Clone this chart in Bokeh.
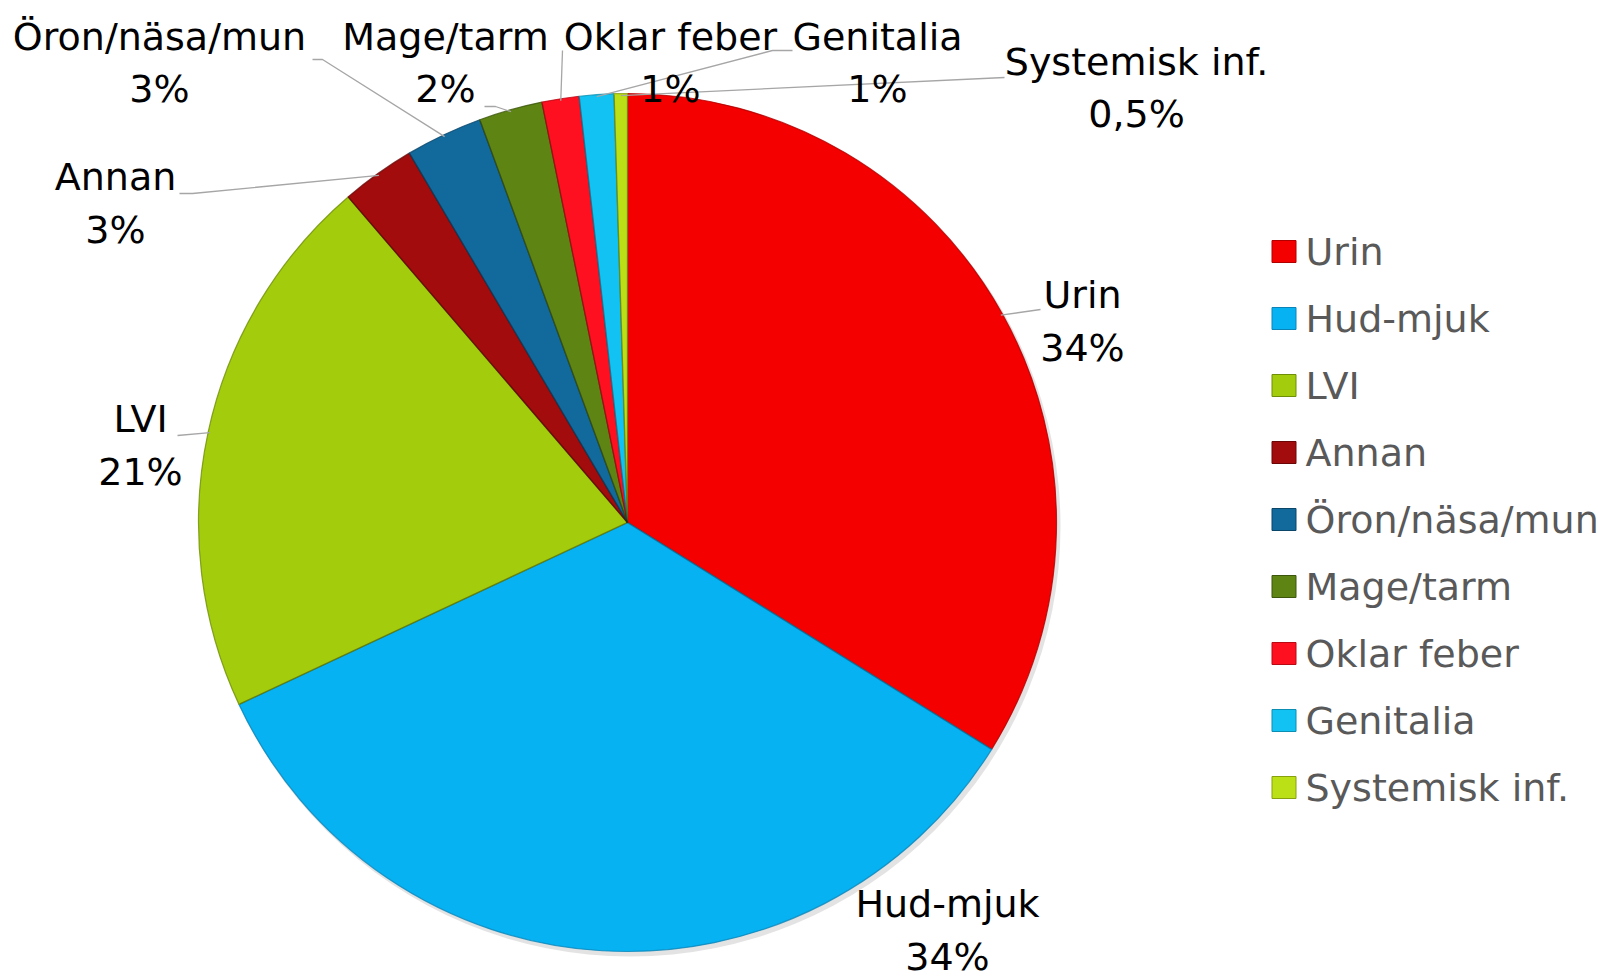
import math
from bokeh.plotting import figure
from bokeh.models import Range1d
from bokeh.core.properties import value
from bokeh.embed import file_html
from bokeh.resources import INLINE

# ---- data ----
categories = ["Urin", "Hud-mjuk", "LVI", "Annan", "Öron/näsa/mun",
              "Mage/tarm", "Oklar feber", "Genitalia", "Systemisk inf."]
shares = [33.9, 34.2, 20.7, 2.8, 2.9, 2.4, 1.4, 1.3, 0.5]
pct_labels = ["34%", "34%", "21%", "3%", "3%", "2%", "1%", "1%", "0,5%"]
colors = ["#F40000", "#06B2F2", "#A2CC0C", "#A30C0C", "#12699C",
          "#5E8414", "#FF1020", "#12C2F2", "#BCE016"]
edge_colors = ["#B00000", "#0A84B8", "#6F8E08", "#6A0606", "#0B4669",
               "#3C560C", "#B80A14", "#0B8EB2", "#86A00E"]

# ---- layout (page pixel coordinates) ----
W, H = 1605, 972
def Y(py):
    return H - py

CX, CY, R = 627, 522, 429
FONT = "DejaVu Sans"
FS = "38px"

# label centres (x, name-line y, pct-line y)
label_pos = [(1082, 294, 347), (947, 903, 956), (140, 418, 471),
             (115, 176, 229), (159, 36, 88), (445, 36, 88),
             (670, 36, 88), (877, 36, 88), (1136, 61, 113)]
# leader line start points (px); None = no leader
leader_start = [[(1040, 309)], None, [(177, 435)], [(179, 193), (192, 193)],
                [(312, 59), (322, 59)], [(484, 106), (495, 106)],
                [(562, 50)], [(792, 50), (772, 50)], [(1004, 77)]]

p = figure(width=W, height=H, output_backend="svg", toolbar_location=None,
           x_range=Range1d(0, W), y_range=Range1d(0, H),
           min_border=0, outline_line_color=None)
p.axis.visible = False
p.grid.visible = False
p.background_fill_color = "white"
p.border_fill_color = "white"

total = sum(shares)
starts, ends, mids = [], [], []
acc = 0.0
for s in shares:
    a0 = math.pi / 2 - 2 * math.pi * acc / total
    acc += s
    a1 = math.pi / 2 - 2 * math.pi * acc / total
    starts.append(a1)
    ends.append(a0)
    mids.append((a0 + a1) / 2)

n = len(shares)
# soft shadow
p.circle(x=[CX + 3], y=[Y(CY) - 4], radius=R + 1, fill_color="#B0B0B0",
         fill_alpha=0.35, line_color=None)
# slices
p.wedge(x=[CX] * n, y=[Y(CY)] * n, radius=R,
        start_angle=starts, end_angle=ends, fill_color=colors,
        line_color=edge_colors, line_width=1.2, line_alpha=0.8)

# slice borders
for a in ends:
    p.line([CX, CX + (R - 1) * math.cos(a)], [Y(CY), Y(CY) + (R - 1) * math.sin(a)],
           line_color="black", line_alpha=0.15, line_width=1.5)

# leader lines
for i, pts in enumerate(leader_start):
    if pts is None:
        continue
    ex = CX + (R - 2) * math.cos(mids[i])
    ey = Y(CY) + (R - 2) * math.sin(mids[i])
    xs = [q[0] for q in pts] + [ex]
    ys = [Y(q[1]) for q in pts] + [ey]
    p.line(xs, ys, line_color="#A6A6A6", line_width=1.3)

# data labels
p.text(x=[q[0] for q in label_pos], y=[Y(q[1]) for q in label_pos],
       text=categories, text_align="center", text_baseline="middle",
       text_font=value(FONT), text_font_size=FS, text_color="black")
p.text(x=[q[0] for q in label_pos], y=[Y(q[2]) for q in label_pos],
       text=pct_labels, text_align="center", text_baseline="middle",
       text_font=value(FONT), text_font_size=FS, text_color="black")

# legend
leg_y = [251 + 67 * i for i in range(n)]
p.rect(x=[1283.5] * n, y=[Y(v) for v in leg_y], width=24, height=22,
       fill_color=colors, line_color=edge_colors, line_width=1)
p.text(x=[1305] * n, y=[Y(v) for v in leg_y], text=categories,
       text_align="left", text_baseline="middle", text_font=value(FONT),
       text_font_size=FS, text_color="#595959")

open("out.html", "w").write(file_html(p, INLINE))
